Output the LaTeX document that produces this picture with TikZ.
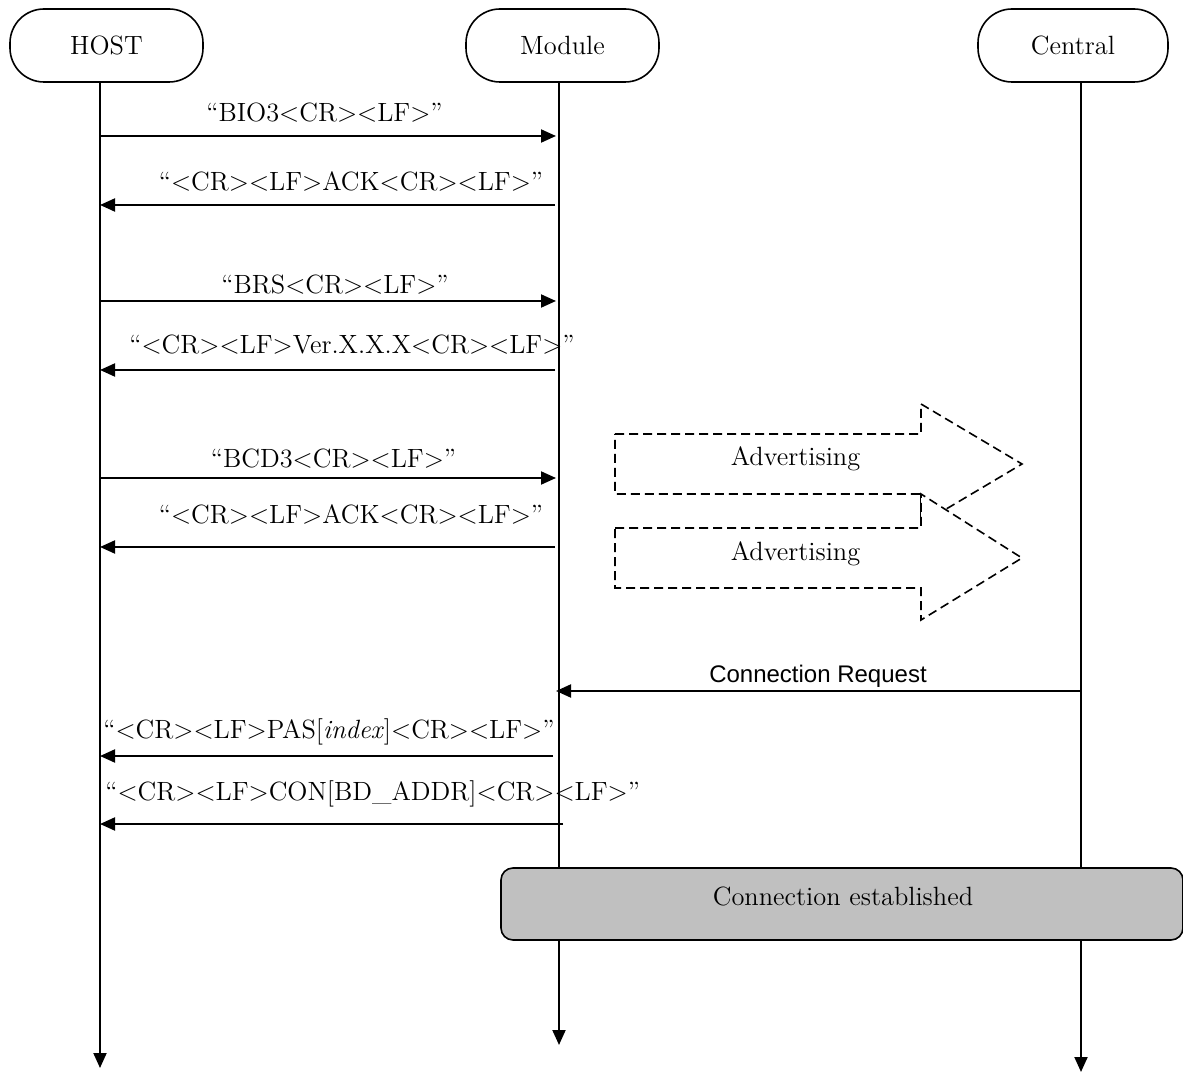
\documentclass[tikz,border=0pt]{standalone}
\usepackage{fontspec}
\newfontfamily\arialfont{Liberation Sans}
\usetikzlibrary{arrows.meta}
\definecolor{boxgray}{RGB}{192,192,192}
\newcommand{\LT}{\textless}
\newcommand{\GT}{\textgreater}
\begin{document}
\begin{tikzpicture}[x=0.5pt,y=-0.5pt,
  font=\fontsize{13.2}{15}\selectfont,
  lifehead/.style={draw,line width=0.8pt,rounded corners=17pt,minimum width=96.5pt,minimum height=36.5pt,inner sep=0pt},
  life/.style={line width=1pt,-{Triangle[length=7.5pt,width=6.5pt]}},
  msg/.style={line width=1pt,-{Triangle[length=7.5pt,width=6.5pt]}},
  lbl/.style={inner sep=0pt,anchor=base},
  advarrow/.style={draw=black,line width=0.8pt,fill=white,dash pattern=on 4.5pt off 2.5pt},
  estbox/.style={draw,line width=0.8pt,fill=boxgray,rounded corners=6pt,inner sep=0pt}]
\useasboundingbox (0,0) rectangle (1183,1074);

% lifeline heads
\node[lifehead] (host) at (106.5,45.5) {HOST};
\node[lifehead] (mod) at (562.5,45.5) {Module};
\node[lifehead,minimum width=95pt] (cen) at (1073,45.5) {Central};

% lifeline ends
\coordinate (hostend) at (100,1068);
\coordinate (modend) at (559,1045);
\coordinate (cenend) at (1081,1072);
\draw[life] (host.south -| hostend) -- (hostend);
\draw[life] (mod.south -| modend) -- (modend);
\draw[life] (cen.south -| cenend) -- (cenend);

% message end points
\coordinate (h1) at (100,136);  \coordinate (m1) at (556,136);
\coordinate (h2) at (100,205);  \coordinate (m2) at (555,205);
\coordinate (h3) at (100,301);  \coordinate (m3) at (556,301);
\coordinate (h4) at (100,370);  \coordinate (m4) at (555,370);
\coordinate (h5) at (100,478);  \coordinate (m5) at (556,478);
\coordinate (h6) at (100,547);  \coordinate (m6) at (555,547);
\coordinate (mc) at (556,691);  \coordinate (cc) at (1081,691);
\coordinate (h7) at (100,756);  \coordinate (m7) at (553,756);
\coordinate (h8) at (100,824);  \coordinate (m8) at (563,824);

\draw[msg] (h1) -- (m1);
\draw[msg] (m2) -- (h2);
\draw[msg] (h3) -- (m3);
\draw[msg] (m4) -- (h4);
\draw[msg] (h5) -- (m5);
\draw[msg] (m6) -- (h6);
\draw[msg] (cc) -- (mc);
\draw[msg] (m7) -- (h7);
\draw[msg] (m8) -- (h8);

% labels
\node[lbl] (l1) at (324.5,122) {``BIO3\LT CR\GT\LT LF\GT''};
\node[lbl] (l2) at (351,191) {``\LT CR\GT\LT LF\GT ACK\LT CR\GT\LT LF\GT''};
\node[lbl] (l3) at (335,294) {``BRS\LT CR\GT\LT LF\GT''};
\node[lbl] (l4) at (352,354) {``\LT CR\GT\LT LF\GT Ver.X.X.X\LT CR\GT\LT LF\GT''};
\node[lbl] (l5) at (333.5,468) {``BCD3\LT CR\GT\LT LF\GT''};
\node[lbl] (l6) at (351,524) {``\LT CR\GT\LT LF\GT ACK\LT CR\GT\LT LF\GT''};
\node[lbl,font=\arialfont\fontsize{12}{14}\selectfont] (lc) at (818,682) {Connection Request};
\node[lbl,anchor=base west] (l7) at (103,738) {``\LT CR\GT\LT LF\GT PAS[\textit{index}]\LT CR\GT\LT LF\GT''};
\node[lbl,anchor=base west] (l8) at (105,800) {``\LT CR\GT\LT LF\GT CON[BD\_ADDR]\LT CR\GT\LT LF\GT''};

% advertising arrows
\draw[advarrow] (615,434) -- (921,434) -- (921,404) -- (1022,464) -- (921,524) -- (921,494) -- (615,494) -- cycle;
\node[lbl] (adv1) at (795.5,466) {Advertising};
\draw[advarrow] (615,528) -- (921,528) -- (921,494) -- (1022,558) -- (921,620) -- (921,588) -- (615,588) -- cycle;
\node[lbl] (adv2) at (795.5,560) {Advertising};

% connection established
\node[estbox,minimum width=341pt,minimum height=36pt] (est) at (842,904) {};
\node[lbl] (estlbl) at (843,905) {Connection established};
\end{tikzpicture}
\end{document}
